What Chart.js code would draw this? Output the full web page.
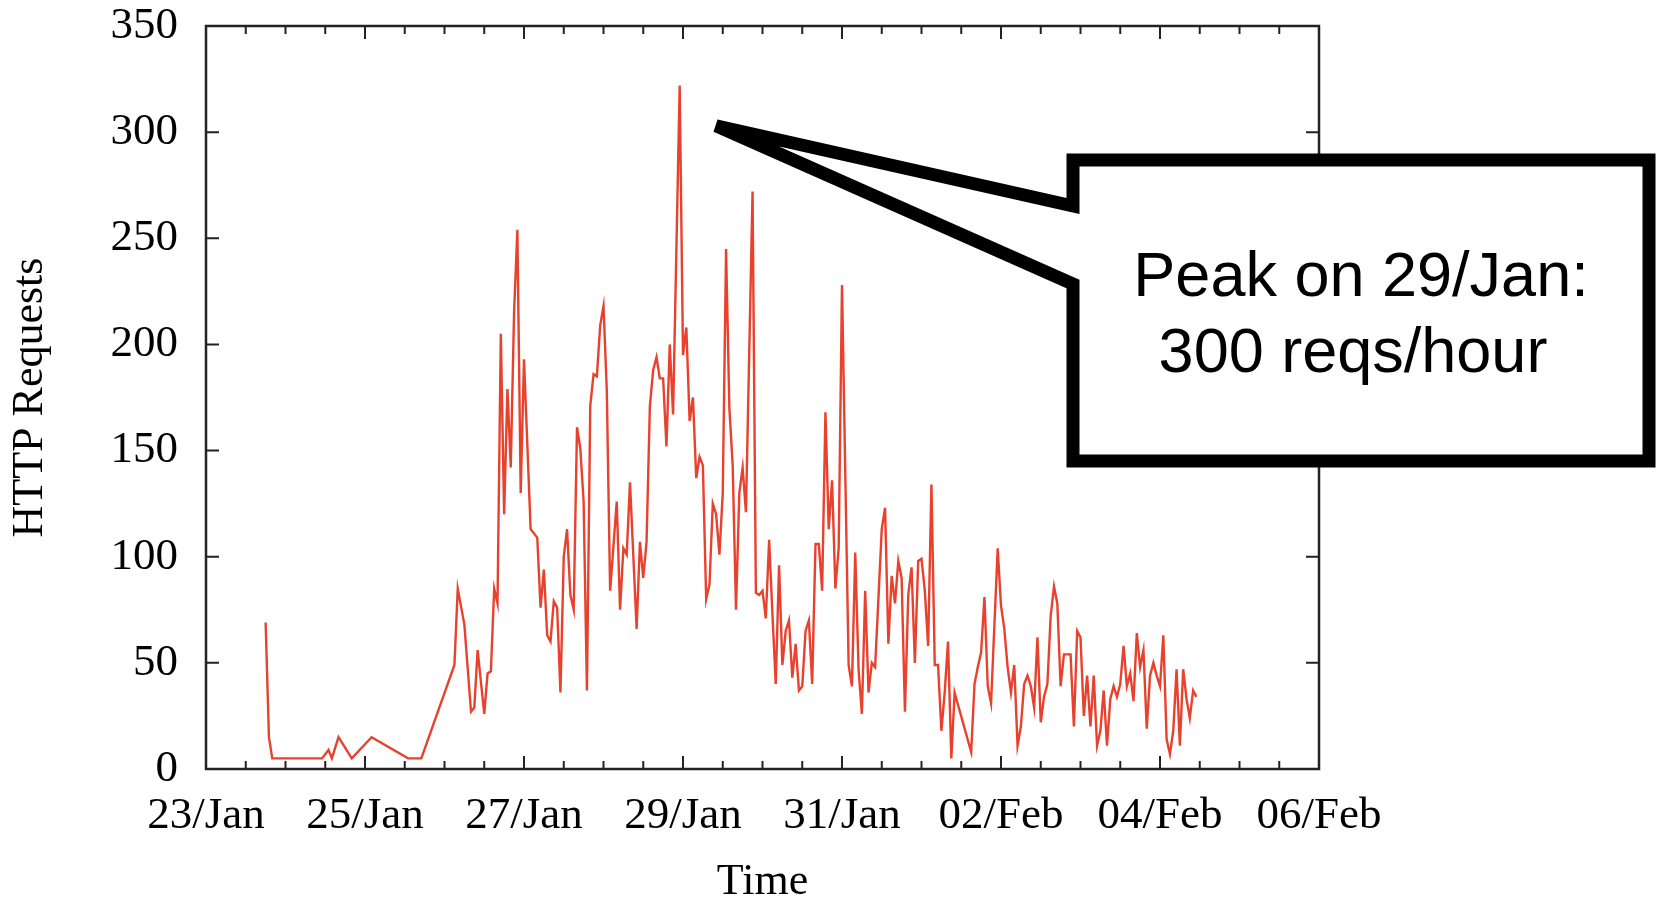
<!DOCTYPE html>
<html>
<head>
<meta charset="utf-8">
<title>HTTP Requests</title>
<script src="https://cdn.jsdelivr.net/npm/chart.js@4.4.1/dist/chart.umd.min.js"></script>
<style>
    html, body { margin: 0; padding: 0; background: #fff; }
    canvas { display: block; }
</style>
</head>
<body>
<canvas id="GraficoRequisicoes" width="1657" height="898"></canvas>
<script>
// hours counted from 23/Jan 00:00, one sample per hour (gaps = no data)
var hours = [
    18, 19, 20, 35, 37, 38, 40, 44, 50, 61, 65,
    75, 76, 78, 80, 81, 82, 84, 85, 86, 87, 88, 89,
    90, 91, 92, 93, 94, 95, 96, 98, 100, 101, 102, 103,
    104, 105, 106, 107, 108, 109, 110, 111, 112, 113, 114, 115,
    116, 117, 118, 119, 120, 121, 122, 124, 125, 126, 127, 128,
    130, 131, 132, 133, 134, 135, 136, 137, 138, 139, 140, 141,
    143, 144, 145, 146, 147, 148, 149, 150, 151, 152, 153, 154,
    155, 156, 157, 158, 159, 160, 161, 162, 163, 165, 166, 167,
    168, 169, 170, 171, 172, 173, 174, 175, 176, 177, 178, 179,
    180, 181, 182, 183, 184, 185, 186, 187, 188, 189, 190, 191,
    192, 194, 195, 196, 197, 198, 199, 200, 201, 202, 204, 205,
    206, 207, 208, 209, 210, 211, 212, 213, 214, 215, 216, 217,
    218, 219, 220, 221, 222, 223, 224, 225, 226, 231, 232, 233,
    234, 235, 236, 237, 239, 240, 241, 242, 243, 244, 245, 246,
    247, 248, 249, 250, 251, 252, 253, 254, 255, 256, 257, 258,
    259, 260, 261, 262, 263, 264, 265, 266, 267, 268, 269, 270,
    271, 272, 273, 274, 275, 276, 277, 278, 279, 280, 281, 282,
    283, 284, 285, 286, 287, 288, 289, 290, 291, 292, 293, 294,
    295, 296, 297, 298, 299
];

var requests = [
    69, 15, 5, 5, 9, 5, 15, 5, 15, 5, 5,
    49, 85, 68, 27, 29, 56, 26, 45, 46, 85, 78, 205,
    120, 179, 142, 215, 254, 130, 193, 113, 109, 76, 94, 63,
    60, 79, 76, 36, 100, 113, 82, 75, 161, 151, 126, 37,
    171, 186, 185, 209, 218, 178, 84, 126, 75, 104, 101, 135,
    66, 107, 90, 107, 171, 188, 194, 184, 184, 152, 200, 167,
    322, 195, 208, 164, 175, 137, 147, 143, 80, 87, 125, 120,
    101, 130, 245, 170, 143, 75, 130, 142, 121, 272, 83, 82,
    84, 71, 108, 73, 40, 96, 49, 65, 70, 43, 59, 37,
    39, 65, 70, 40, 106, 106, 84, 168, 113, 136, 85, 104,
    228, 49, 39, 102, 47, 26, 84, 36, 50, 48, 113, 123,
    59, 91, 78, 98, 90, 27, 82, 95, 50, 98, 99, 84,
    58, 134, 49, 49, 18, 36, 60, 5, 36, 8, 40, 48,
    55, 81, 39, 31, 104, 77, 66, 48, 36, 49, 11, 20,
    40, 44, 39, 29, 62, 22, 34, 40, 72, 86, 78, 39,
    54, 54, 54, 20, 65, 62, 25, 44, 20, 44, 11, 18,
    37, 11, 33, 39, 34, 40, 58, 39, 45, 32, 64, 48,
    56, 19, 44, 50, 44, 39, 63, 14, 7, 18, 47, 11,
    47, 33, 24, 37, 34
];

var dayLabels = ['23/Jan', '25/Jan', '27/Jan', '29/Jan', '31/Jan', '02/Feb', '04/Feb', '06/Feb'];
var yTicks = [0, 50, 100, 150, 200, 250, 300, 350];
var calloutLines = ['Peak on 29/Jan:', '300 reqs/hour'];

var serif = 'Liberation Serif, Times New Roman, serif';

function MontarPontos() {
    var pontos = [];
    for (var i = 0; i < hours.length; i++) {
        pontos.push({ x: hours[i], y: requests[i] });
    }
    return pontos;
}

// gnuplot-like frame: box around the plot with inward ticks on all four sides
var moldura = {
    id: 'moldura',
    beforeDatasetsDraw: function (chart) {
        var ctx = chart.ctx;
        var area = chart.chartArea;
        var sx = chart.scales.x;
        var sy = chart.scales.y;

        ctx.save();
        ctx.strokeStyle = '#222';
        ctx.lineWidth = 2.5;
        ctx.strokeRect(area.left, area.top, area.right - area.left, area.bottom - area.top);

        ctx.lineWidth = 2;
        ctx.beginPath();
        for (var h = sx.min; h <= sx.max; h += 12) {
            var px = sx.getPixelForValue(h);
            var len = (h % 48 === 0) ? 13 : 8;
            ctx.moveTo(px, area.bottom);
            ctx.lineTo(px, area.bottom - len);
            ctx.moveTo(px, area.top);
            ctx.lineTo(px, area.top + len);
        }
        for (var i = 0; i < yTicks.length; i++) {
            var py = sy.getPixelForValue(yTicks[i]);
            ctx.moveTo(area.left, py);
            ctx.lineTo(area.left + 13, py);
            ctx.moveTo(area.right, py);
            ctx.lineTo(area.right - 13, py);
        }
        ctx.stroke();
        ctx.restore();
    }
};

// speech-bubble box pointing at the peak
var balao = {
    id: 'balao',
    afterDraw: function (chart) {
        var ctx = chart.ctx;
        var tipX = chart.scales.x.getPixelForValue(154);
        var tipY = chart.scales.y.getPixelForValue(303);
        var esq = 1073, dir = 1649, topo = 160, base = 461;

        ctx.save();
        ctx.beginPath();
        ctx.moveTo(esq, 206);
        ctx.lineTo(tipX, tipY);
        ctx.lineTo(esq, 284);
        ctx.lineTo(esq, base);
        ctx.lineTo(dir, base);
        ctx.lineTo(dir, topo);
        ctx.lineTo(esq, topo);
        ctx.closePath();
        ctx.fillStyle = '#fff';
        ctx.fill();
        ctx.lineWidth = 13;
        ctx.lineJoin = 'miter';
        ctx.miterLimit = 2;
        ctx.strokeStyle = '#000';
        ctx.stroke();

        ctx.fillStyle = '#000';
        ctx.font = '63px "Liberation Sans", Arial, sans-serif';
        ctx.textAlign = 'center';
        ctx.textBaseline = 'alphabetic';
        ctx.fillText(calloutLines[0], 1361, 296);
        ctx.fillText(calloutLines[1], 1353, 372);
        ctx.restore();
    }
};

var ctx = document.getElementById('GraficoRequisicoes').getContext('2d');

var grafico = new Chart(ctx, {
    type: 'line',
    data: {
        datasets: [{
            label: 'HTTP Requests',
            data: MontarPontos(),
            borderColor: '#e8412e',
            borderWidth: 2.4,
            pointRadius: 0,
            tension: 0,
            fill: false
        }]
    },
    options: {
        responsive: false,
        animation: false,
        devicePixelRatio: 1,
        layout: { padding: { left: 0, right: 338, top: 26, bottom: 0 } },
        plugins: {
            legend: { display: false },
            tooltip: { enabled: false }
        },
        scales: {
            x: {
                type: 'linear',
                min: 0,
                max: 336,
                ticks: {
                    stepSize: 48,
                    autoSkip: false,
                    maxRotation: 0,
                    padding: 20,
                    color: '#000',
                    font: { family: serif, size: 45 },
                    callback: function (value) {
                        return dayLabels[Math.round(value / 48)];
                    }
                },
                grid: { display: false, drawTicks: false },
                border: { display: false },
                title: {
                    display: true,
                    text: 'Time',
                    color: '#000',
                    font: { family: serif, size: 44, lineHeight: 0.7 },
                    padding: 0
                },
                afterFit: function (scale) {
                    scale.height = 129;
                    scale.paddingLeft = 0;
                    scale.paddingRight = 0;
                }
            },
            y: {
                min: 0,
                max: 350,
                ticks: {
                    stepSize: 50,
                    padding: 28,
                    color: '#000',
                    font: { family: serif, size: 45 }
                },
                grid: { display: false, drawTicks: false },
                border: { display: false },
                title: {
                    display: true,
                    text: 'HTTP Requests',
                    color: '#000',
                    font: { family: serif, size: 44, lineHeight: 1.2 },
                    padding: { top: 4, bottom: 0 }
                },
                afterFit: function (scale) {
                    scale.width = 206;
                    scale.paddingTop = 0;
                    scale.paddingBottom = 0;
                }
            }
        }
    },
    plugins: [moldura, balao]
});
</script>
</body>
</html>
